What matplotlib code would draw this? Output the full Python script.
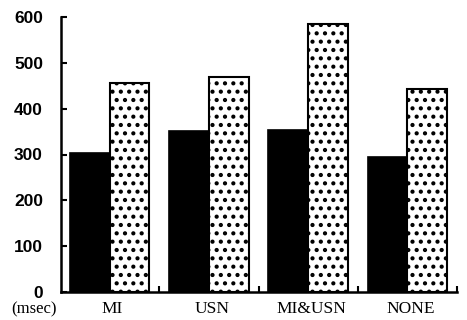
import numpy as np
import matplotlib.pyplot as plt
import matplotlib as mpl
import matplotlib.transforms as mtransforms

# values (msec)
conditions = ['MI', 'USN', 'MI&USN', 'NONE']
solid_vals = [303, 352, 354, 294]
dotted_vals = [457, 469, 584, 443]
yticks = [0, 100, 200, 300, 400, 500, 600]

mpl.rcParams['hatch.linewidth'] = 1.8

fig = plt.figure(figsize=(4.67, 3.2), dpi=100)
ax = fig.add_axes([61/467, 28/320, 396/467, 275/320])

x = np.arange(len(conditions))
w = 0.4
ax.bar(x - w/2, solid_vals, w, color='black', edgecolor='black', linewidth=1.2)
ax.bar(x + w/2, dotted_vals, w, color='white', edgecolor='black', linewidth=1.5, hatch='..')

ax.set_xlim(-0.49, 3.45)
ax.set_ylim(0, 600)
ax.set_yticks(yticks)
ax.set_yticklabels([str(v) for v in yticks], fontfamily='Liberation Sans', fontsize=12.5, fontweight='bold')
# labels sit a few pixels above their ticks in the original
shift = mtransforms.ScaledTranslation(0, 3/72, fig.dpi_scale_trans)
for lab in ax.get_yticklabels():
    lab.set_transform(lab.get_transform() + shift)

ax.set_xticks(x + 0.5, minor=False)
ax.set_xticklabels([])
ax.tick_params(axis='x', direction='in', length=4, width=1.5)
ax.tick_params(axis='y', direction='in', length=4, width=1.5, pad=13)

for i, c in enumerate(conditions):
    ax.text(i + 0.03, -20, c, ha='center', va='top', fontfamily='Liberation Serif', fontsize=12.5)
ax.text(-0.76, -20, '(msec)', ha='center', va='top', fontfamily='Liberation Serif', fontsize=12)

for s in ['top', 'right']:
    ax.spines[s].set_visible(False)
for s in ['left', 'bottom']:
    ax.spines[s].set_linewidth(1.8)

fig.savefig('out.png', dpi=100)
